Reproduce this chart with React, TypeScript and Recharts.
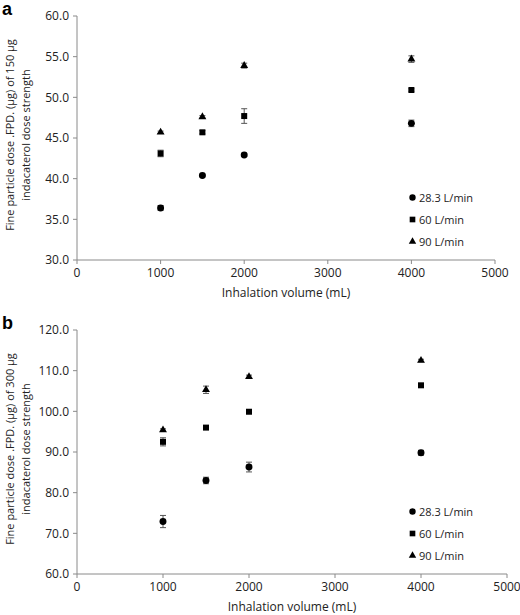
import React from "react"
import {
  ScatterChart,
  Scatter,
  XAxis,
  YAxis,
  ErrorBar,
  Label,
  Symbols
} from "recharts"

// inhalation volumes (mL)
const volumes = [1000, 1500, 2000, 4000]
const xTicks = [0, 1000, 2000, 3000, 4000, 5000]

// panel a: 150 µg strength
const a283 = [36.4, 40.4, 42.9, 46.8]
const a283Err = [0.3, 0.15, 0.15, 0.4]
const a60 = [43.1, 45.7, 47.7, 50.9]
const a60Err = [0.4, 0.2, 0.9, 0.15]
const a90 = [45.7, 47.6, 53.9, 54.7]
const a90Err = [0.15, 0.15, 0.3, 0.4]
const aTicks = [30, 35, 40, 45, 50, 55, 60]

// panel b: 300 µg strength
const b283 = [72.9, 83.0, 86.3, 89.8]
const b283Err = [1.5, 0.8, 1.2, 0.6]
const b60 = [92.5, 96.0, 99.9, 106.4]
const b60Err = [1.0, 0.2, 0.3, 0.3]
const b90 = [95.4, 105.3, 108.5, 112.5]
const b90Err = [0.3, 0.9, 0.4, 0.3]
const bTicks = [60, 70, 80, 90, 100, 110, 120]

const seriesNames = ["28.3 L/min", "60 L/min", "90 L/min"]
const shapes = ["circle", "square", "triangle"] as const

const FONT = "'Open Sans', sans-serif"
const AXIS = "#8a8a8a"

const toPoints = (vals: number[], errs: number[]) =>
  volumes.map((v, i) => ({ x: v, y: vals[i], err: errs[i] }))

const markSize = { circle: 38, square: 36, triangle: 27 }

const makeShape = (type: "circle" | "square" | "triangle") => (p: any) =>
  <Symbols cx={p.cx} cy={p.cy} type={type} size={markSize[type]} fill="#000" />

function LegendBox({ left, top }: { left: number; top: number }) {
  return (
    <div style={{ position: "absolute", left, top, fontFamily: FONT, fontSize: 11, color: "#222" }}>
      {seriesNames.map((n, i) => (
        <div key={n} style={{ display: "flex", alignItems: "center", height: 22 }}>
          <svg width={9} height={9} style={{ marginRight: 2 }}>
            <Symbols cx={4.5} cy={4.5} type={shapes[i]} size={shapes[i] === "triangle" ? 24 : 32} fill="#000" />
          </svg>
          <span>{n}</span>
        </div>
      ))}
    </div>
  )
}

interface PanelProps {
  letter: string
  strength: string
  series: { vals: number[]; errs: number[] }[]
  ticks: number[]
  top: number
  right: number
}

function Panel({ letter, strength, series, ticks, top, right }: PanelProps) {
  const plotTop = 16
  const plotH = 244
  const cy = plotTop + plotH / 2 - 3
  return (
    <div style={{ position: "absolute", left: 0, top, width: 520, height: 300 }}>
      <ScatterChart width={520} height={300} margin={{ top: plotTop, right, bottom: 10, left: 0 }}>
        <XAxis
          type="number"
          dataKey="x"
          domain={[0, 5000]}
          ticks={xTicks}
          stroke={AXIS}
          tickSize={4}
          tickMargin={4}
          tick={{ fill: "#222", fontSize: 12, fontFamily: FONT }}
          height={30}
        >
          <Label
            value="Inhalation volume (mL)"
            position="bottom"
            offset={-2}
            style={{ fill: "#222", fontSize: 12, fontFamily: FONT }}
          />
        </XAxis>
        <YAxis
          type="number"
          dataKey="y"
          domain={[ticks[0], ticks[ticks.length - 1]]}
          ticks={ticks}
          width={77}
          stroke={AXIS}
          tickSize={4}
          tickMargin={4}
          tickFormatter={(v: number) => v.toFixed(1)}
          tick={{ fill: "#222", fontSize: 12, fontFamily: FONT }}
        >
          <Label
            content={() => (
              <g style={{ fontFamily: FONT, fontSize: 11, fill: "#222" }}>
                <text x={9} y={cy} transform={`rotate(-90 9 ${cy})`} textAnchor="middle" dominantBaseline="central">
                  {`Fine particle dose .FPD. (μg) of ${strength} μg`}
                </text>
                <text x={25} y={cy} transform={`rotate(-90 25 ${cy})`} textAnchor="middle" dominantBaseline="central">
                  indacaterol dose strength
                </text>
              </g>
            )}
          />
        </YAxis>
        {series.map((s, i) => (
          <Scatter
            key={seriesNames[i]}
            name={seriesNames[i]}
            data={toPoints(s.vals, s.errs)}
            shape={makeShape(shapes[i])}
            isAnimationActive={false}
          >
            <ErrorBar dataKey="err" direction="y" width={3} stroke="#555" strokeWidth={1} />
          </Scatter>
        ))}
      </ScatterChart>
      <div style={{
        position: "absolute", left: 2, top: 0, lineHeight: "18px",
        fontFamily: "'Liberation Sans', Arial, sans-serif", fontWeight: "bold", fontSize: 18
      }}>{letter}</div>
      <LegendBox left={408} top={186} />
    </div>
  )
}

export default function App() {
  return (
    <div style={{ position: "absolute", left: 0, top: 0, width: 520, height: 615, background: "#fff" }}>
      <Panel
        letter="a"
        strength="150"
        series={[
          { vals: a283, errs: a283Err },
          { vals: a60, errs: a60Err },
          { vals: a90, errs: a90Err }
        ]}
        ticks={aTicks}
        top={0}
        right={25}
      />
      <Panel
        letter="b"
        strength="300"
        series={[
          { vals: b283, errs: b283Err },
          { vals: b60, errs: b60Err },
          { vals: b90, errs: b90Err }
        ]}
        ticks={bTicks}
        top={314}
        right={13}
      />
    </div>
  )
}
